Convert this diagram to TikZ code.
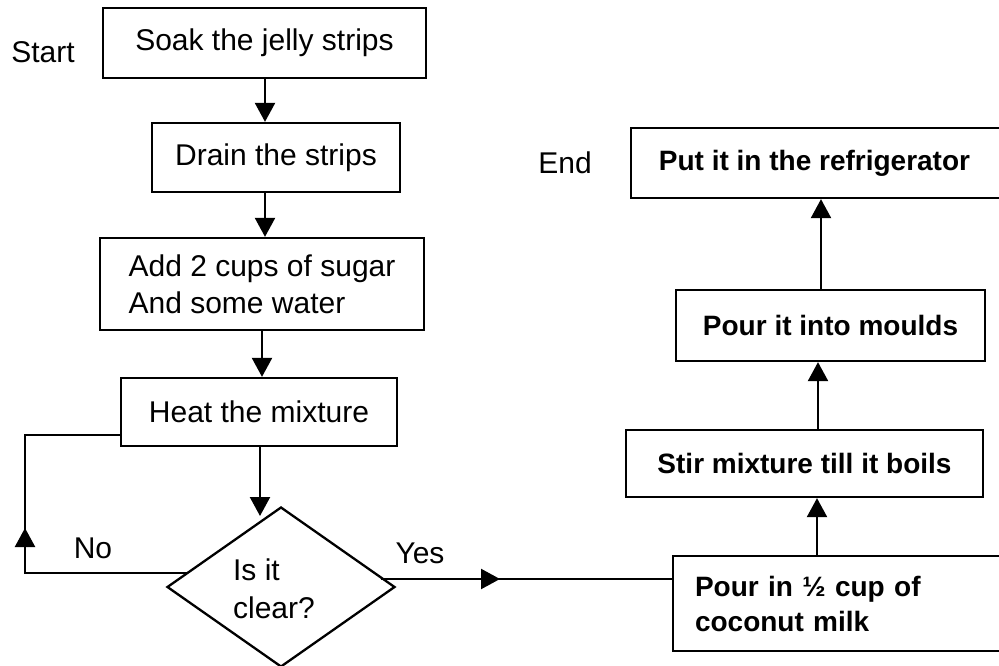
\documentclass[tikz,border=0pt]{standalone}
\usepackage{fontspec}
\setmainfont{Liberation Sans}
\usetikzlibrary{arrows.meta,shapes.geometric,calc}
\tikzset{
  box/.style={draw, line width=2.3pt, rectangle, inner sep=0pt, font=\fontsize{30}{37}\selectfont},
  rbox/.style={draw, line width=2.3pt, rectangle, inner sep=0pt, font=\fontsize{28}{35}\selectfont\bfseries},
  lbl/.style={font=\fontsize{30}{36}\selectfont},
  arr/.style={line width=2.3pt, -{Triangle[length=19pt,width=20pt]}},
  ln/.style={line width=2.3pt}
}
\begin{document}
\begin{tikzpicture}[x=1pt,y=-1pt]
\useasboundingbox (0,0) rectangle (999,666);
\clip (0,0) rectangle (999,666);
\fill[white] (0,0) rectangle (999,666);
% left column
\node[box, minimum width=323pt, minimum height=70pt] (b1) at (264.5,43) {Soak the jelly strips};
\node[box, minimum width=248pt, minimum height=69pt] (b2) at (276,157.5) {Drain the strips};
\node[box, minimum width=324pt, minimum height=92pt, align=left] (b3) at (262,284) {Add 2 cups of sugar\\And some water};
\node[box, minimum width=276pt, minimum height=68pt] (b4) at (259,412) {Heat the mixture};
\node[draw, line width=2.3pt, diamond, minimum width=228pt, minimum height=160pt, inner sep=0pt] (d) at (281,587) {};
\node[lbl, align=left, font=\fontsize{30}{38}\selectfont] (dt) at (274,589) {Is it\\clear?};
% right column
\node[rbox, minimum width=379pt, minimum height=70pt] (r1) at (820.5,163) {\hspace*{-12pt}Put it in the refrigerator};
\node[rbox, minimum width=309pt, minimum height=71pt] (r2) at (830.5,325.5) {Pour it into moulds};
\node[rbox, minimum width=357pt, minimum height=67pt] (r3) at (804.5,463.5) {Stir mixture till it boils};
\node[rbox, minimum width=337pt, minimum height=95pt, inner xsep=22pt, text width=293pt, align=left] (r4) at (841.5,603.5) {Pour in ½ cup of\\coconut milk};
% labels
\node[lbl] (start) at (43,52) {Start};
\node[lbl] (end) at (565,163) {End};
\node[lbl] (no) at (93,548) {No};
\node[lbl] (yes) at (420,553) {Yes};
% coordinates
\coordinate (nA) at (187,573);
\coordinate (nB) at (25,573);
\coordinate (nC) at (25,435);
\coordinate (nArrS) at (25,556);
\coordinate (nArrE) at (25,528);
\coordinate (yA) at (381,579);
\coordinate (yArr) at (500,579);
% connectors
\draw[arr] (b1.south -| 265,0) -- (b2.north -| 265,0);
\draw[arr] (b2.south -| 265,0) -- (b3.north -| 265,0);
\draw[arr] (b3.south -| 262,0) -- (b4.north -| 262,0);
\draw[arr] (b4.south -| 260,0) -- (260,516);
\draw[ln] (nA) -- (nB) -- (nC) -- (nC -| b4.west);
\draw[arr] (nArrS) -- (nArrE);
\draw[ln] (yA) -- (yA -| r4.west);
\draw[arr] (yA) -- (yArr);
\draw[arr] (r4.north -| 817,0) -- (r3.south -| 817,0);
\draw[arr] (r3.north -| 818,0) -- (r2.south -| 818,0);
\draw[arr] (r2.north -| 821,0) -- (r1.south -| 821,0);
\end{tikzpicture}
\end{document}
